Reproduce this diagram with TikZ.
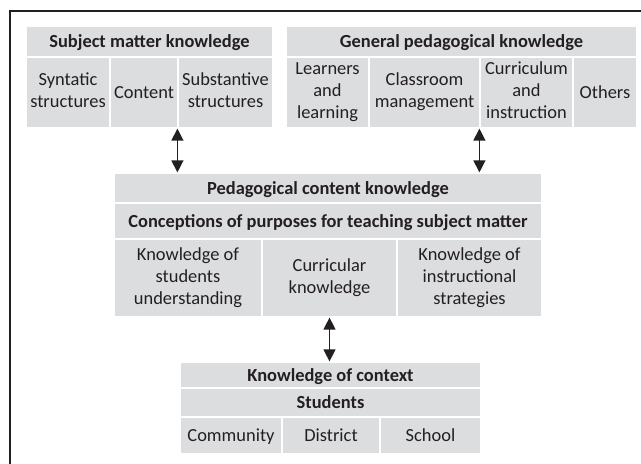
\documentclass[tikz,border=0pt]{standalone}
\usepackage{fontspec}
\setmainfont{Carlito}
\usetikzlibrary{arrows.meta}
\definecolor{cellgray}{HTML}{DCDDDF}
\definecolor{ink}{HTML}{231F20}
\newcommand{\cellstrut}{\rule[-4.6bp]{0pt}{22bp}}
\tikzset{
  cell/.style={rectangle, fill=cellgray, draw=white, line width=1.2pt, inner sep=0pt,
    align=center, text=ink, font=\fontsize{18.5}{22}\selectfont,
    execute at begin node=\cellstrut, execute at end node=\cellstrut},
  head/.style={cell, font=\fontsize{18.5}{22}\selectfont\bfseries},
  link/.style={{Triangle[width=12pt,length=12pt]}-{Triangle[width=12pt,length=12pt]}, line width=1.2pt, draw=ink},
  frame/.style={line width=1.3pt, draw=ink}
}
\begin{document}
\begin{tikzpicture}[x=1bp, y=-1bp]
\useasboundingbox (0,0) rectangle (641,464);
\coordinate (fa) at (10,11);
\coordinate (fb) at (641,11);
\coordinate (fc) at (10,464);
\draw[frame] (fb) -- (fa) -- (fc);

% Subject matter knowledge
\node[head, minimum width=247bp, minimum height=31bp] (smk) at (149.5,41.5) {Subject matter knowledge};
\node[cell, minimum width=84bp, minimum height=71bp] (syn) at (68,92.5) {Syntatic\\structures};
\node[cell, minimum width=68bp, minimum height=71bp] (con) at (144,92.5) {Content};
\node[cell, minimum width=95bp, minimum height=71bp] (sub) at (225.5,92.5) {Substantive\\structures};

% General pedagogical knowledge
\node[head, minimum width=351bp, minimum height=31bp] (gpk) at (461.5,41.5) {General pedagogical knowledge};
\node[cell, minimum width=83bp, minimum height=71bp] (lea) at (327.5,92.5) {Learners\\and\\learning};
\node[cell, minimum width=111bp, minimum height=71bp] (cla) at (424.5,92.5) {Classroom\\management};
\node[cell, minimum width=93bp, minimum height=71bp] (cur) at (526.5,92.5) {Curriculum\\and\\instruction};
\node[cell, minimum width=64bp, minimum height=71bp] (oth) at (605,92.5) {Others};

% Pedagogical content knowledge
\node[head, minimum width=428bp, minimum height=30bp] (pck) at (328,188) {Pedagogical content knowledge};
\node[head, minimum width=428bp, minimum height=36bp] (cpt) at (328,221) {Conceptions of purposes for teaching subject matter};
\node[cell, minimum width=148bp, minimum height=78bp] (kst) at (188,278) {Knowledge of\\students\\understanding};
\node[cell, minimum width=135bp, minimum height=78bp] (ckn) at (329.5,278) {Curricular\\knowledge};
\node[cell, minimum width=145bp, minimum height=78bp] (kis) at (469.5,278) {Knowledge of\\instructional\\strategies};

% Knowledge of context
\node[head, minimum width=301bp, minimum height=26bp] (ctx) at (330.5,375) {Knowledge of context};
\node[head, minimum width=301bp, minimum height=29bp] (stu) at (330.5,402.5) {Students};
\node[cell, minimum width=102bp, minimum height=37bp] (com) at (231,435.5) {Community};
\node[cell, minimum width=98bp, minimum height=37bp] (dis) at (331,435.5) {District};
\node[cell, minimum width=101bp, minimum height=37bp] (sch) at (430.5,435.5) {School};

% Connectors
\draw[link] (sub.south west) -- (pck.north -| sub.south west);
\draw[link] (cur.south west) -- (pck.north -| cur.south west);
\draw[link] (ckn.south) -- (ctx.north -| ckn.south);
\end{tikzpicture}
\end{document}
